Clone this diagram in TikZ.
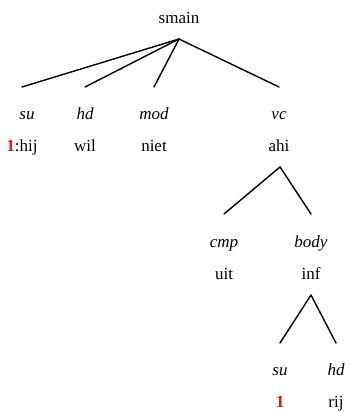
\documentclass[tikz,border=0pt]{standalone}
\usepackage{fontspec}
\setmainfont{Liberation Serif}
\definecolor{idxred}{RGB}{230,20,20}

\begin{document}
\begin{tikzpicture}[x=1pt,y=-1pt,line cap=round,line join=round,
    cat/.style={anchor=base,inner sep=0pt,font=\fontsize{17}{17}\selectfont},
    rel/.style={anchor=base,inner sep=0pt,font=\itshape\fontsize{17}{17}\selectfont},
    branch/.style={line width=1.4pt}]
    \path[use as bounding box] (0,0) rectangle (349,412);

    % top level
    \node[cat] (smain) at (179,23.5) {smain};
    \coordinate (smain-b) at (179,39);

    \coordinate (su-t) at (22,87);
    \coordinate (hd-t) at (85,87);
    \coordinate (mod-t) at (154,87);
    \coordinate (vc-t) at (279,87);

    \node[rel] (su) at (27,119) {su};
    \node[rel] (hd) at (85,119) {hd};
    \node[rel] (mod) at (154,119) {mod};
    \node[rel] (vc) at (279,119) {vc};

    \node[cat] (hij) at (22,151) {\textcolor{idxred}{\textbf{1}}:hij};
    \node[cat] (wil) at (85,151) {wil};
    \node[cat] (niet) at (154,151) {niet};
    \node[cat] (ahi) at (279,151) {ahi};

    \draw[branch] (smain-b) -- (su-t);
    \draw[branch] (smain-b) -- (hd-t);
    \draw[branch] (smain-b) -- (mod-t);
    \draw[branch] (smain-b) -- (vc-t);

    % vc
    \coordinate (ahi-b) at (280,167);
    \coordinate (cmp-t) at (224,214);
    \coordinate (body-t) at (311,214);

    \node[rel] (cmp) at (224,247) {cmp};
    \node[rel] (body) at (311,247) {body};
    \node[cat] (uit) at (224,279) {uit};
    \node[cat] (inf) at (311,279) {inf};

    \draw[branch] (ahi-b) -- (cmp-t);
    \draw[branch] (ahi-b) -- (body-t);

    % body
    \coordinate (inf-b) at (311,295);
    \coordinate (su2-t) at (280,343);
    \coordinate (hd2-t) at (336,343);

    \node[rel] (su2) at (280,375) {su};
    \node[rel] (hd2) at (336,375) {hd};
    \node[cat] (idx) at (280,407) {\textcolor{idxred}{\textbf{1}}};
    \node[cat] (rij) at (336,407) {rij};

    \draw[branch] (inf-b) -- (su2-t);
    \draw[branch] (inf-b) -- (hd2-t);
\end{tikzpicture}
\end{document}
